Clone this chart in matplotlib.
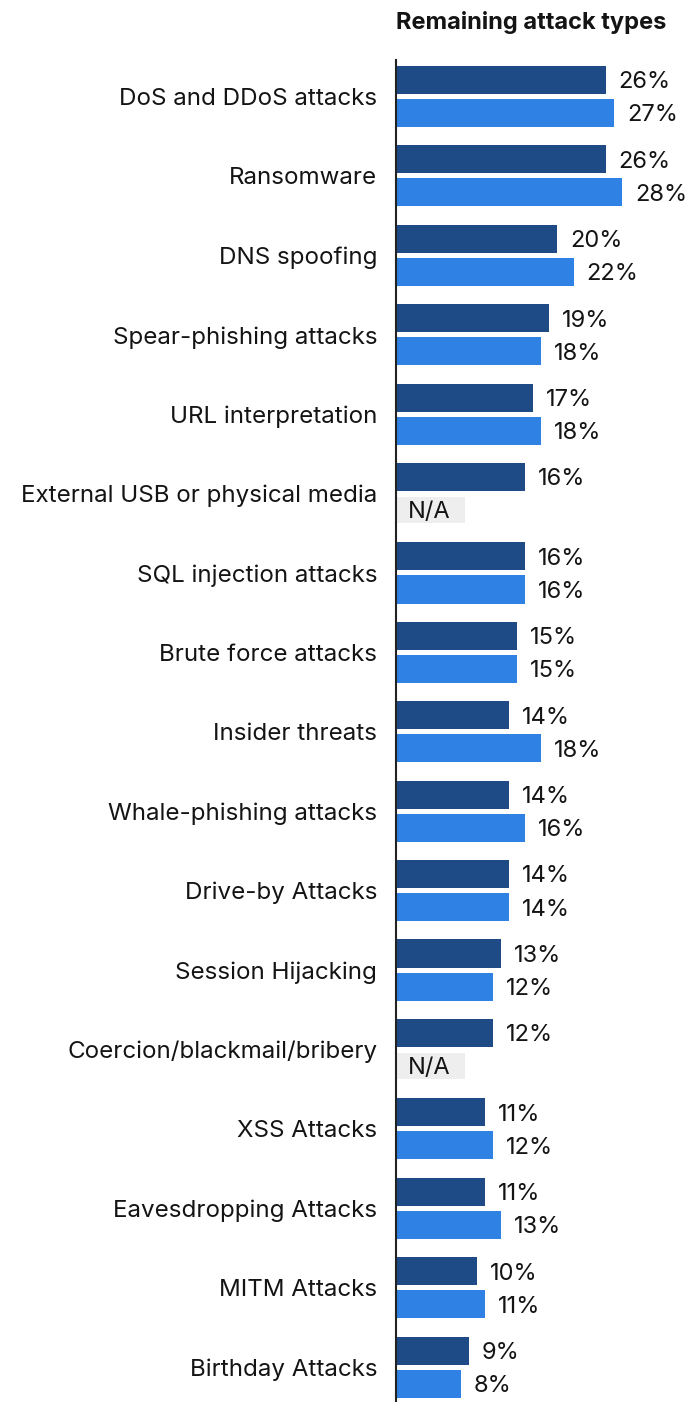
"""Horizontal grouped bars: remaining attack types, two survey years."""

import matplotlib

matplotlib.use("Agg")
import matplotlib.pyplot as plt

plt.rcParams["font.family"] = ["Inter", "DejaVu Sans"]

categories = [
    "DoS and DDoS attacks",
    "Ransomware",
    "DNS spoofing",
    "Spear-phishing attacks",
    "URL interpretation",
    "External USB or physical media",
    "SQL injection attacks",
    "Brute force attacks",
    "Insider threats",
    "Whale-phishing attacks",
    "Drive-by Attacks",
    "Session Hijacking",
    "Coercion/blackmail/bribery",
    "XSS Attacks",
    "Eavesdropping Attacks",
    "MITM Attacks",
    "Birthday Attacks",
]
series_dark = [26, 26, 20, 19, 17, 16, 16, 15, 14, 14, 14, 13, 12, 11, 11, 10, 9]
series_light = [27, 28, 22, 18, 18, None, 16, 15, 18, 16, 14, 12, None, 12, 13, 11, 8]
title = "Remaining attack types"

DARK = "#1e4a85"
LIGHT = "#2f81e3"
NA_GREY = "#eeeeee"
TEXT = "#141414"
NA_WIDTH = 8.55
OFFSET = 0.208
HEIGHT = 0.353
FONT = 17.4
VAL_FONT = 17
NUDGE = 0.03  # text sits a touch low vs. bar centre in the original

fig = plt.figure(figsize=(6.88, 14.02), dpi=100)
ax = fig.add_axes([396 / 688, 0, 1 - 396 / 688, (1402 - 60) / 1402])

idx = list(range(len(categories)))
ax.barh([i - OFFSET for i in idx], series_dark, height=HEIGHT, color=DARK)
for i, v in zip(idx, series_dark):
    ax.text(v + 1.6, i - OFFSET + NUDGE, f"{v}%", va="center", ha="left",
            fontsize=VAL_FONT, color=TEXT)

for i, v in zip(idx, series_light):
    if v is None:
        ax.barh(i + OFFSET, NA_WIDTH, height=HEIGHT * 0.93, color=NA_GREY)
        ax.text(1.5, i + OFFSET + NUDGE, "N/A", va="center", ha="left",
                fontsize=VAL_FONT, color=TEXT)
    else:
        ax.barh(i + OFFSET, v, height=HEIGHT, color=LIGHT)
        ax.text(v + 1.6, i + OFFSET + NUDGE, f"{v}%", va="center", ha="left",
                fontsize=VAL_FONT, color=TEXT)

ax.set_xlim(0, (688 - 396) / 8.07)
ax.set_ylim(16.44, -0.46)
ax.set_yticks(idx)
ax.set_yticklabels(categories, fontsize=FONT, color=TEXT)
ax.tick_params(axis="y", length=0, pad=13.5)
ax.set_xticks([])
for side in ("top", "right", "bottom"):
    ax.spines[side].set_visible(False)
ax.spines["left"].set_linewidth(1.5)
ax.spines["left"].set_color("#222222")

fig.text(531 / 688, 1 - 23 / 1402, title, ha="center", va="center",
         fontsize=17, fontweight="bold", color=TEXT)

fig.savefig("out.png", dpi=100)
